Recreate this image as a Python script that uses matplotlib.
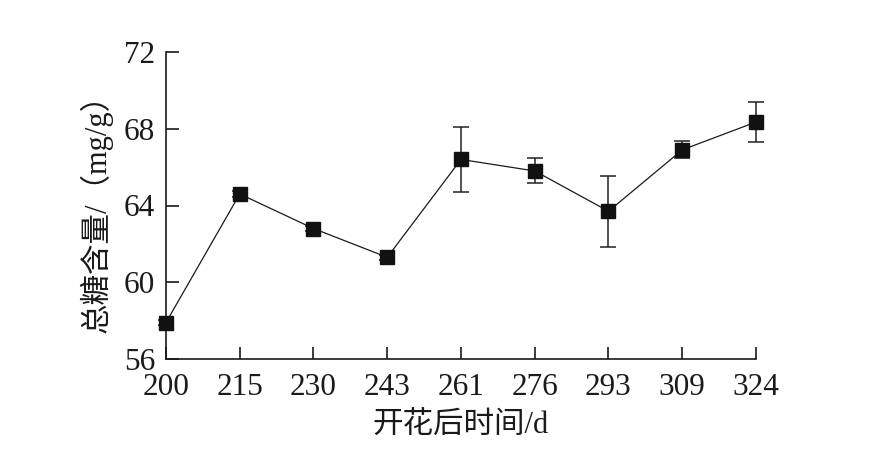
import matplotlib
matplotlib.use('Agg')
import matplotlib.pyplot as plt

# days after flowering (categorical, equally spaced on the axis)
days = ['200', '215', '230', '243', '261', '276', '293', '309', '324']
sugar = [57.9, 64.6, 62.8, 61.3, 66.4, 65.8, 63.7, 66.9, 68.35]
err = [0.15, 0.15, 0.12, 0.12, 1.7, 0.65, 1.85, 0.45, 1.05]
yticks = [56, 60, 64, 68, 72]

fams = ['Liberation Serif', 'Noto Sans CJK SC']
plt.rcParams['font.family'] = fams
plt.rcParams['font.size'] = 22

fig = plt.figure(figsize=(8.78, 4.74), dpi=100)
ax = fig.add_axes([166 / 878, 1 - 359 / 474, (756 - 166) / 878, (359 - 52) / 474])

xs = list(range(len(days)))
ax.errorbar(xs, sugar, yerr=err, color='#1a1a1a', lw=0.9, marker='s', ms=10,
            mfc='#111111', mec='#111111', ecolor='#222222', elinewidth=1.1,
            capsize=6, capthick=1.1, clip_on=False, zorder=3)

ax.set_xlim(0, len(days) - 1)
ax.set_ylim(56, 72)
ax.set_xticks(xs)
ax.set_xticklabels(days)
ax.set_yticks(yticks)
ax.set_yticklabels([str(v) for v in yticks])

for s in ['top', 'right']:
    ax.spines[s].set_visible(False)
for s in ['left', 'bottom']:
    ax.spines[s].set_linewidth(1.2)
    ax.spines[s].set_color('#1a1a1a')
ax.tick_params(direction='in', length=9, width=1.2, colors='#1a1a1a', labelsize=22.5)
ax.tick_params(axis='x', pad=10)
ax.tick_params(axis='y', pad=8)

ax.set_xlabel('开花后时间/d', family=fams, fontsize=22, labelpad=7, color='#1a1a1a')
ax.set_ylabel('总糖含量/（mg/g）', family=fams, fontsize=22, labelpad=8, color='#1a1a1a')

fig.savefig('out.png', dpi=100)
